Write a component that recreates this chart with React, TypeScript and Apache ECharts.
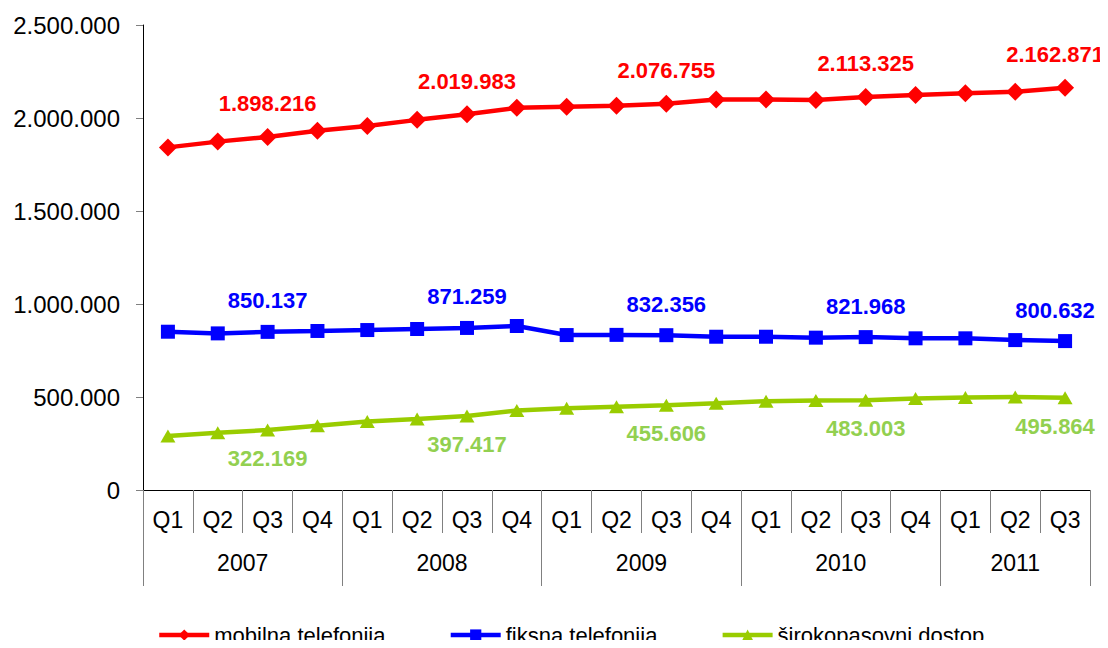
import React, { useEffect, useRef } from "react";
import * as echarts from "echarts";

const quarterLabels = ["Q1","Q2","Q3","Q4","Q1","Q2","Q3","Q4","Q1","Q2","Q3","Q4","Q1","Q2","Q3","Q4","Q1","Q2","Q3"];
const years = ["2007","2008","2009","2010","2011"];
const quartersPerYear = [4, 4, 4, 4, 3];

const mobilna = [1842000,1873000,1898216,1931000,1957000,1990000,2019983,2055000,2061000,2066000,2076755,2100000,2100000,2097000,2113325,2124000,2133000,2141000,2162871];
const fiksna = [851000,842000,850137,855000,860000,865500,871259,881700,833000,834000,832356,824000,824000,819000,821968,815500,815500,806000,800632];
const sirokopasovni = [290000,308000,322169,345000,368000,382000,397417,428000,440000,448000,455606,466000,477000,481000,483003,492000,497000,500000,495864];

const labelledIdx = [2, 6, 10, 14, 18];
const yTicks = { min: 0, max: 2500000, interval: 500000 };

const fmt = (v: number) => String(Math.round(v)).replace(/\B(?=(\d{3})+(?!\d))/g, ".");

export default function App() {
  const ref = useRef<HTMLDivElement>(null);
  useEffect(() => {
    if (!ref.current) return;
    const chart = echarts.init(ref.current, null, { renderer: "svg" });

    const bounds: number[] = [0];
    quartersPerYear.forEach((q) => bounds.push(bounds[bounds.length - 1] + q));
    const total = bounds[bounds.length - 1];
    const yearSlots: string[] = new Array(total * 2 + 1).fill("");
    years.forEach((y, i) => { yearSlots[bounds[i] + bounds[i + 1]] = y; });
    const tickSet = new Set(bounds.map((b) => b * 2));

    const font = "Arial, 'Liberation Sans', sans-serif";
    const mkData = (vals: number[]) =>
      vals.map((v, i) =>
        labelledIdx.includes(i)
          ? { value: v, label: { show: true, offset: i === vals.length - 1 ? [-10, 0] : [0, 0] } }
          : v
      );

    const mkSeries = (name: string, vals: number[], color: string, labelColor: string, symbol: string, size: any, pos: string, dist: number) => ({
      name,
      type: "line",
      data: mkData(vals),
      color,
      symbol,
      symbolSize: size,
      lineStyle: { width: 4.5, color },
      itemStyle: { color },
      label: {
        show: false,
        position: pos,
        distance: dist,
        color: labelColor,
        fontWeight: "bold",
        fontSize: 22,
        fontFamily: font,
        formatter: (p: any) => fmt(p.value),
      },
      z: 3,
    });

    chart.setOption({
      animation: false,
      backgroundColor: "#fff",
      grid: { left: 143, right: 18, top: 25, bottom: 158, containLabel: false },
      legend: {
        top: 624,
        left: 157,
        padding: 0,
        itemWidth: 50,
        itemHeight: 14,
        itemGap: 63,
        lineStyle: { width: 4.5 },
        textStyle: { fontSize: 22, color: "#000", fontFamily: font },
        data: ["mobilna telefonija", "fiksna telefonija", "širokopasovni dostop"],
      },
      xAxis: [
        {
          type: "category",
          data: quarterLabels,
          boundaryGap: true,
          axisLine: { show: true, lineStyle: { color: "#000", width: 1 } },
          axisTick: { show: true, length: 43, interval: 0, lineStyle: { color: "#808080" } },
          axisLabel: { interval: 0, margin: 18, fontSize: 23, color: "#000", fontFamily: font },
        },
        {
          type: "category",
          data: yearSlots,
          boundaryGap: false,
          position: "bottom",
          axisLine: { show: false },
          axisTick: { show: true, length: 96, interval: (idx: number) => tickSet.has(idx), lineStyle: { color: "#808080" } },
          axisLabel: { interval: 0, margin: 61, fontSize: 23, color: "#000", fontFamily: font },
        },
      ],
      yAxis: {
        type: "value",
        min: yTicks.min,
        max: yTicks.max,
        interval: yTicks.interval,
        splitLine: { show: false },
        axisLine: { show: true, lineStyle: { color: "#000", width: 1 } },
        axisTick: { show: true, length: 7, lineStyle: { color: "#808080" } },
        axisLabel: { margin: 23, fontSize: 24, color: "#000", fontFamily: font, formatter: (v: number) => fmt(v) },
      },
      series: [
        mkSeries("mobilna telefonija", mobilna, "#FF0000", "#FF0000", "diamond", 18, "top", 13),
        mkSeries("fiksna telefonija", fiksna, "#0000FF", "#0000FF", "rect", 14, "top", 13),
        mkSeries("širokopasovni dostop", sirokopasovni, "#99CC00", "#92D050", "triangle", [15, 13], "bottom", 11),
      ],
    });
    return () => chart.dispose();
  }, []);
  return <div ref={ref} style={{ width: 1108, height: 648, margin: -8 }} />;
}
